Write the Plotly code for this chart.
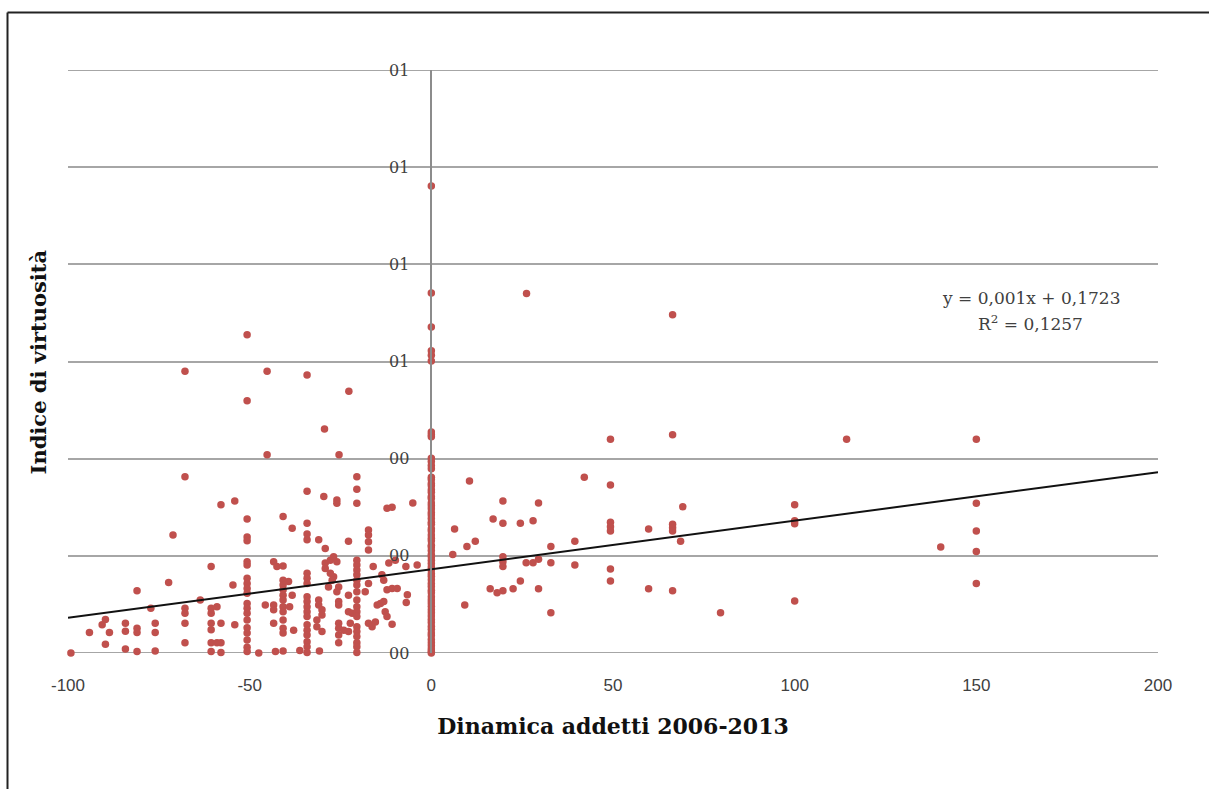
import plotly.graph_objects as go

# ---------------- data ----------------
# far left group
x_far = [-99.2, -94.1, -90.6, -89.7, -88.6, -89.7, -84.2, -84.2, -84.2,
         -81, -81, -81, -81, -77.2, -76, -76, -76, -72.3, -71.1,
         -67.8, -67.8, -67.8, -67.8, -67.8, -67.8, -63.6,
         -60.6, -60.6, -60.6, -60.6, -60.6, -60.6, -60.6, -59, -59,
         -57.9, -57.9, -57.9, -57.9, -54.6, -54.1, -54.1]
y_far = [0.0, 0.042, 0.058, 0.069, 0.042, 0.018, 0.061, 0.045, 0.008,
         0.128, 0.051, 0.042, 0.003, 0.092, 0.061, 0.042, 0.004, 0.145, 0.243,
         0.580, 0.363, 0.092, 0.082, 0.061, 0.021, 0.109,
         0.178, 0.092, 0.082, 0.061, 0.048, 0.021, 0.003, 0.095, 0.021,
         0.305, 0.061, 0.021, 0.001, 0.140, 0.313, 0.058]

# column at -50
y_m50 = [0.655, 0.519, 0.276, 0.239, 0.231, 0.188, 0.181, 0.154, 0.143, 0.133,
         0.123, 0.102, 0.092, 0.082, 0.068, 0.052, 0.041, 0.027, 0.012, 0.003]

# group -48 .. -36
x_mid1 = [-47.5, -45.2, -45.2, -45.7, -43.4, -42.5, -40.8, -43.4, -43.4, -43.4, -42.9,
          -40.8, -40.8, -40.8, -40.8, -40.8, -40.8, -40.8, -40.8, -40.8, -40.8, -40.8, -40.8,
          -38.3, -39.3, -38.3, -39.0, -37.9, -36.2]
y_mid1 = [0.0, 0.580, 0.408, 0.099, 0.188, 0.178, 0.179, 0.099, 0.089, 0.061, 0.003,
          0.281, 0.150, 0.140, 0.130, 0.119, 0.109, 0.095, 0.085, 0.068, 0.051, 0.041, 0.004,
          0.257, 0.147, 0.119, 0.095, 0.047, 0.005]

# column at -34
y_m34 = [0.572, 0.333, 0.267, 0.245, 0.233, 0.164, 0.154, 0.143, 0.116, 0.106,
         0.095, 0.085, 0.075, 0.058, 0.047, 0.037, 0.023, 0.013, 0.001]

# group -32 .. -21
x_mid2 = [-31, -31, -31, -30.1, -31.5, -30.1, -31.5, -30.1, -30.8, -29.4, -29.6, -29.2,
          -29.2, -29.2, -27.8, -27.8, -26.9, -26, -26.9, -26, -26,
          -28.3, -27.3, -25.5, -26, -25.4, -25.5, -25.5, -22.8, -22.8, -21.8, -22.3,
          -25.5, -25.5, -25.5, -25.5, -24.1, -22.8, -22.8, -22.7]
y_mid2 = [0.233, 0.109, 0.099, 0.089, 0.068, 0.078, 0.054, 0.044, 0.004, 0.461, 0.322, 0.215,
          0.185, 0.174, 0.191, 0.164, 0.198, 0.188, 0.157, 0.315, 0.308,
          0.136, 0.150, 0.136, 0.126, 0.408, 0.106, 0.099, 0.119, 0.085, 0.082, 0.061,
          0.061, 0.051, 0.037, 0.021, 0.047, 0.044, 0.230, 0.539]

# column at -20
y_m20 = [0.363, 0.337, 0.308, 0.191, 0.181, 0.171, 0.161, 0.150, 0.140, 0.126,
         0.109, 0.095, 0.085, 0.075, 0.054, 0.044, 0.034, 0.021, 0.013, 0.001]

# group -18 .. -3
x_near = [-17.3, -17.3, -17.3, -17.3, -17.3, -18.2, -17.3, -15.4, -16.3, -16,
          -14.9, -14, -13.1, -13.6, -13.1, -12.2, -10.8, -9.4, -12.2, -10.8,
          -11.7, -9.9, -10.8, -12.7, -12.2, -7, -6.9, -6.6, -5.1, -3.9]
y_near = [0.253, 0.243, 0.229, 0.212, 0.143, 0.126, 0.061, 0.064, 0.054, 0.178,
          0.099, 0.102, 0.106, 0.161, 0.150, 0.130, 0.133, 0.133, 0.298, 0.300,
          0.185, 0.191, 0.059, 0.085, 0.075, 0.178, 0.104, 0.120, 0.309, 0.181]

# column at 0
y_zero = [0.961, 0.741, 0.671, 0.622, 0.613, 0.601, 0.455, 0.449, 0.445,
          0.401, 0.394, 0.386, 0.379, 0.362, 0.357, 0.349, 0.344, 0.336, 0.331,
          0.322, 0.318, 0.309, 0.303, 0.297, 0.289, 0.284, 0.277, 0.269, 0.265,
          0.256, 0.251, 0.243, 0.236, 0.231, 0.222, 0.218, 0.211, 0.203, 0.198,
          0.191, 0.184, 0.177, 0.171, 0.163, 0.158, 0.151, 0.143, 0.137, 0.129,
          0.124, 0.116, 0.109, 0.103, 0.096, 0.089, 0.083, 0.076, 0.069, 0.063,
          0.055, 0.049, 0.041, 0.036, 0.028, 0.021, 0.015, 0.008, 0.003, 0.0]

# right side
x_right = [5.9, 6.4, 9.8, 12.1, 9.2, 10.5, 17, 19.7, 19.7, 19.7, 19.7, 19.7,
           16.2, 18.1, 19.7, 22.5, 24.5, 24.5, 28, 29.5, 26.1, 28, 29.5, 29.5,
           32.9, 32.9, 32.9, 39.5, 39.5, 42.1,
           49.3, 49.3, 49.3, 49.3, 49.3, 49.3, 49.3, 59.8, 59.8,
           66.4, 66.4, 66.4, 66.4, 66.4, 69.2, 68.6, 79.6,
           100, 100, 100, 100, 114.3, 150, 150, 150, 150, 150, 140.2,
           26.2, 66.4]
y_right = [0.203, 0.255, 0.219, 0.230, 0.099, 0.354, 0.276, 0.313, 0.267, 0.198, 0.188, 0.178,
           0.132, 0.124, 0.128, 0.132, 0.148, 0.267, 0.272, 0.309, 0.186, 0.186, 0.193, 0.132,
           0.219, 0.186, 0.083, 0.230, 0.181, 0.362,
           0.440, 0.346, 0.269, 0.260, 0.251, 0.173, 0.148, 0.255, 0.132,
           0.449, 0.265, 0.258, 0.251, 0.128, 0.301, 0.230, 0.083,
           0.305, 0.272, 0.266, 0.107, 0.440, 0.440, 0.308, 0.251, 0.209, 0.143, 0.218,
           0.740, 0.696]

trend_slope = 0.001
trend_intercept = 0.1723
trend_x = [-100, 200]

y_min, y_max = 0.0, 1.2
y_tickvals = [0, 0.2, 0.4, 0.6, 0.8, 1.0, 1.2]
y_ticktext = ["00", "00", "00", "01", "01", "01", "01"]
x_tickvals = [-100, -50, 0, 50, 100, 150, 200]
x_ticktext = ["-100", "-50", "0", "50", "100", "150", "200"]

# ---------------- assemble ----------------
xs = (x_far + [-50.7] * len(y_m50) + x_mid1 + [-34.2] * len(y_m34) + x_mid2
      + [-20.5] * len(y_m20) + x_near + [0] * len(y_zero) + x_right)
ys = y_far + y_m50 + y_mid1 + y_m34 + y_mid2 + y_m20 + y_near + y_zero + y_right

trend_y = [trend_slope * v + trend_intercept for v in trend_x]

GRID = "#a6a6a6"

fig = go.Figure()
fig.add_trace(go.Scatter(
    x=xs, y=ys, mode="markers",
    marker=dict(color="#c0504d", size=7.5, line=dict(width=0)),
    cliponaxis=False, showlegend=False))
fig.add_trace(go.Scatter(
    x=trend_x, y=trend_y, mode="lines",
    line=dict(color="#111111", width=2), showlegend=False))

fig.update_layout(
    width=1209, height=789,
    margin=dict(l=68, r=51, t=70, b=136),
    paper_bgcolor="white", plot_bgcolor="white",
    xaxis=dict(range=[-100, 200], tickvals=x_tickvals, ticktext=x_ticktext, showgrid=False,
               zeroline=False, showline=False, ticks="",
               ticklabelstandoff=20,
               tickfont=dict(family="Liberation Sans Narrow, Liberation Sans", size=17, color="#404040"),
               title=dict(text="<b>Dinamica addetti 2006-2013</b>", standoff=24,
                          font=dict(family="DejaVu Serif", size=22, color="#111111"))),
    yaxis=dict(range=[y_min, y_max], tickvals=y_tickvals, ticktext=y_ticktext,
               anchor="free", position=1/3,
               showgrid=True, gridcolor=GRID, gridwidth=2,
               zeroline=False, showline=True, linecolor="#8c8c8c", linewidth=1.5,
               ticks="", ticklabelstandoff=18,
               tickfont=dict(family="DejaVu Serif", size=16, color="#404040")),
)

# gridlines at the range edges (plotly skips them)
for yv in (y_min, y_max):
    fig.add_shape(type="line", xref="paper", yref="y", x0=0, x1=1, y0=yv, y1=yv,
                  line=dict(color=GRID, width=2), layer="below")

fig.add_annotation(text="<b>Indice di virtuosità</b>", xref="paper", yref="paper",
                   x=-0.04, y=0.5, textangle=-90, showarrow=False,
                   font=dict(family="DejaVu Serif", size=21, color="#111111"))
fig.add_annotation(text="y = 0,001x + 0,1723", xref="x", yref="y", x=165, y=0.731,
                   showarrow=False, font=dict(family="DejaVu Serif", size=17, color="#404040"))
fig.add_annotation(text="R<sup>2</sup> = 0,1257", xref="x", yref="y", x=165, y=0.679,
                   showarrow=False, font=dict(family="DejaVu Serif", size=17, color="#404040"))

# outer frame (top and left edges visible)
fig.add_shape(type="line", xref="paper", yref="paper", x0=-0.0555, x1=1.2, y0=1.0986, y1=1.0986,
              line=dict(color="#222222", width=2))
fig.add_shape(type="line", xref="paper", yref="paper", x0=-0.0555, x1=-0.0555, y0=-0.4, y1=1.0986,
              line=dict(color="#222222", width=2))

fig.write_html("out.html")
